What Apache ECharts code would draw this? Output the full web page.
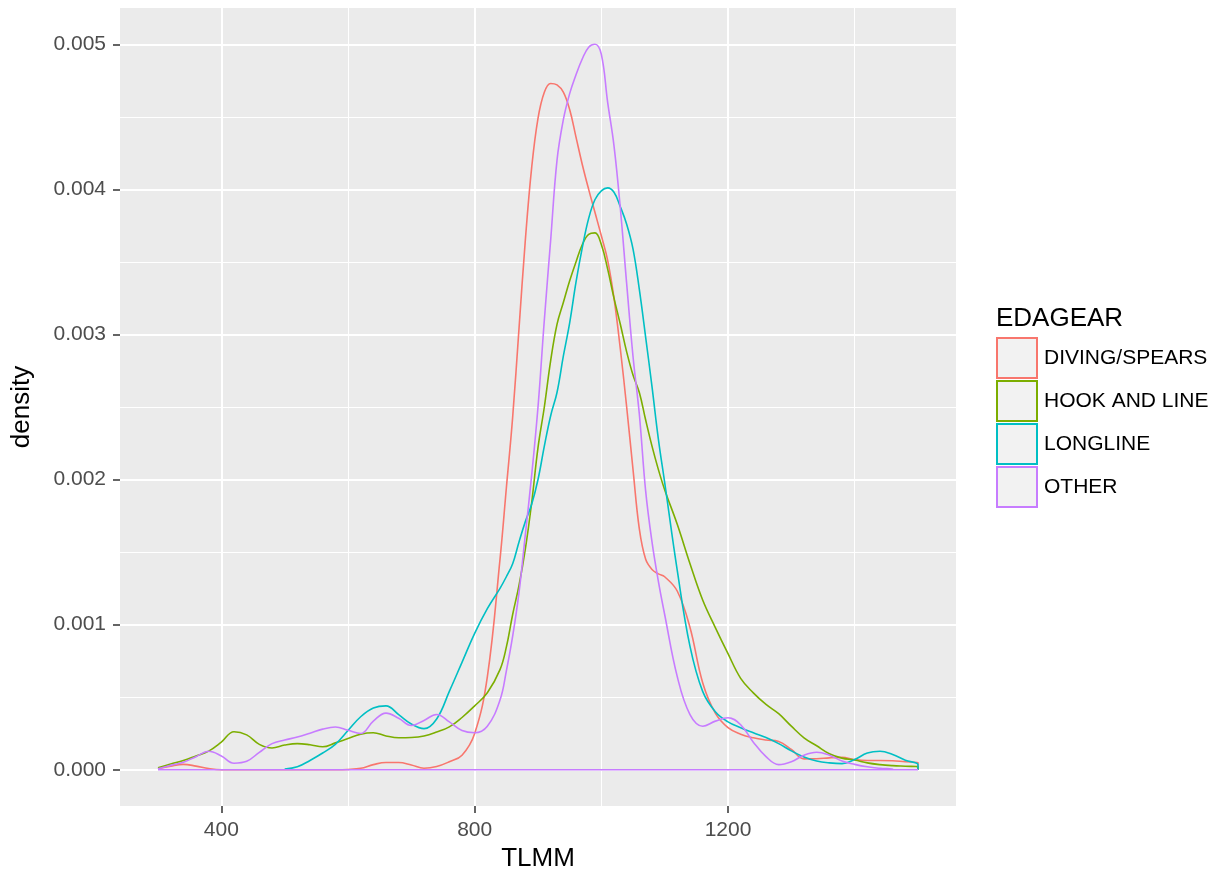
<!DOCTYPE html>
<html>
<head>
<meta charset="utf-8">
<title>EDAGEAR density</title>
<script src="https://cdn.jsdelivr.net/npm/echarts@6/dist/echarts.min.js"></script>
<style>
  html, body { margin: 0; padding: 0; background: #fff; }
  #chart { width: 1227px; height: 882px; }
</style>
</head>
<body>
<div id="chart"></div>
<script>
// TLMM sample points (mm)
const tlmm = [
  300, 320, 340, 360, 380, 400, 420, 440, 460, 480, 500, 520, 540, 560, 580, 600, 620, 640, 660, 680, 700, 720, 740, 760, 780, 800, 820, 840,
  850, 860, 870, 880, 890, 900, 910, 920, 930, 940, 950, 960, 970, 980, 990, 1000, 1010, 1020, 1030, 1040, 1050, 1060, 1070, 1080, 1090, 1100,
  1120, 1140, 1160, 1180, 1200, 1220, 1240, 1260, 1280, 1300, 1320, 1340, 1360, 1380, 1400, 1420, 1440, 1460, 1480, 1500
]

// density per gear, in units of 0.001 (null = outside the group's range)
const divingSpears = [
  0.007, 0.025, 0.037, 0.025, 0.008, 0, 0, 0, 0, 0, 0, 0, 0, 0, 0, 0.002, 0.01, 0.035, 0.05, 0.05, 0.033, 0.01, 0.022, 0.055, 0.1, 0.25, 0.64, 1.45,
  1.94, 2.43, 3.04, 3.65, 4.15, 4.49, 4.67, 4.73, 4.72, 4.67, 4.55, 4.36, 4.17, 4.0, 3.84, 3.68, 3.51, 3.25, 2.9, 2.5, 2.07, 1.66, 1.45, 1.38, 1.35, 1.33,
  1.23, 0.98, 0.6, 0.39, 0.29, 0.245, 0.22, 0.205, 0.195, 0.14, 0.075, 0.076, 0.082, 0.085, 0.07, 0.064, 0.064, 0.062, 0.055, 0.05
]
const hookAndLine = [
  0.014, 0.04, 0.063, 0.095, 0.128, 0.19, 0.262, 0.24, 0.175, 0.15, 0.17, 0.18, 0.172, 0.158, 0.185, 0.215, 0.245, 0.255, 0.233, 0.22, 0.222, 0.233, 0.26, 0.295, 0.36, 0.44, 0.53, 0.69,
  0.845, 1.07, 1.27, 1.52, 1.84, 2.22, 2.5, 2.82, 3.07, 3.22, 3.37, 3.5, 3.62, 3.69, 3.7, 3.62, 3.45, 3.25, 3.07, 2.88, 2.72, 2.6, 2.41, 2.23, 2.07, 1.93,
  1.69, 1.42, 1.17, 0.98, 0.8, 0.63, 0.53, 0.45, 0.386, 0.3, 0.22, 0.165, 0.11, 0.08, 0.067, 0.047, 0.035, 0.028, 0.024, 0.02
]
const longline = [
  null, null, null, null, null, null, null, null, null, null, 0.005, 0.02, 0.064, 0.115, 0.175, 0.27, 0.365, 0.425, 0.44, 0.38, 0.315, 0.283, 0.35, 0.54, 0.74, 0.94, 1.11, 1.25,
  1.33, 1.42, 1.57, 1.71, 1.83, 2.0, 2.23, 2.44, 2.6, 2.85, 3.08, 3.36, 3.6, 3.8, 3.93, 3.99, 4.01, 3.98, 3.88, 3.76, 3.59, 3.31, 2.98, 2.64, 2.28, 1.98,
  1.37, 0.85, 0.54, 0.4, 0.33, 0.29, 0.255, 0.222, 0.18, 0.13, 0.088, 0.06, 0.047, 0.042, 0.07, 0.115, 0.127, 0.105, 0.065, 0.035
]
const other = [
  0.007, 0.03, 0.052, 0.09, 0.127, 0.095, 0.045, 0.058, 0.12, 0.18, 0.205, 0.225, 0.252, 0.28, 0.294, 0.272, 0.25, 0.335, 0.39, 0.355, 0.305, 0.34, 0.381, 0.33, 0.27, 0.255, 0.3, 0.48,
  0.68, 0.92, 1.22, 1.62, 2.03, 2.5, 3.1, 3.65, 4.2, 4.48, 4.66, 4.79, 4.9, 4.98, 5.0, 4.93, 4.6, 4.3, 3.87, 3.35, 2.85, 2.45, 1.92, 1.57, 1.3, 1.07,
  0.64, 0.38, 0.3, 0.335, 0.358, 0.31, 0.19, 0.09, 0.035, 0.055, 0.1, 0.12, 0.1, 0.06, 0.037, 0.02, 0.01, 0.004, null, null
]

const gearNames = ['DIVING/SPEARS', 'HOOK AND LINE', 'LONGLINE', 'OTHER']
const gearValues = [divingSpears, hookAndLine, longline, other]
const gearColors = ['#F8766D', '#7CAE00', '#00BFC4', '#C77CFF']

const xMajorTicks = [400, 800, 1200]
const xMinorTicks = [600, 1000, 1400]
const yMajorTicks = [0, 0.001, 0.002, 0.003, 0.004, 0.005]
const yMinorTicks = [0.0005, 0.0015, 0.0025, 0.0035, 0.0045]

const FONT = '"Liberation Sans", Arial, sans-serif'

const toPoints = (vals) => {
  const pts = []
  tlmm.forEach((x, i) => {
    if (vals[i] != null) pts.push([x, vals[i] / 1000])
  })
  // ggplot closes the outline down to zero at the end of the range
  pts.push([pts[pts.length - 1][0], 0])
  return pts
}

const chart = echarts.init(document.getElementById('chart'))

const option = {
  animation: false,
  backgroundColor: '#ffffff',
  title: {
    text: 'EDAGEAR',
    left: 996,
    top: 306,
    padding: 0,
    textStyle: { fontFamily: FONT, fontSize: 26, fontWeight: 'normal', color: '#000' }
  },
  legend: {
    orient: 'vertical',
    left: 996,
    top: 337,
    padding: 0,
    itemWidth: 40,
    itemHeight: 40,
    itemGap: 1,
    selectedMode: false,
    textStyle: { fontFamily: FONT, fontSize: 21, color: '#000', padding: [4, 0, 0, 2] },
    data: gearNames.map((name, i) => ({
      name,
      icon: 'rect',
      itemStyle: { color: '#F2F2F2', borderColor: gearColors[i], borderWidth: 2 }
    }))
  },
  grid: {
    left: 120,
    top: 8,
    width: 836,
    height: 798,
    show: true,
    backgroundColor: '#EBEBEB',
    borderWidth: 0
  },
  xAxis: [
    {
      type: 'value',
      min: 240,
      max: 1560,
      position: 'bottom',
      name: 'TLMM',
      nameLocation: 'middle',
      nameGap: 40,
      nameTextStyle: { fontFamily: FONT, fontSize: 26, color: '#000' },
      axisLine: { show: false, onZero: false },
      axisTick: { show: true, length: 7, customValues: xMajorTicks, lineStyle: { color: '#333', width: 1.5 } },
      axisLabel: {
        customValues: xMajorTicks,
        margin: 14,
        fontFamily: FONT,
        fontSize: 21,
        color: '#4D4D4D',
        formatter: (v) => String(v)
      },
      splitLine: { show: true, lineStyle: { color: '#fff', width: 2 } }
    },
    {
      // minor grid lines only
      type: 'value',
      min: 240,
      max: 1560,
      position: 'bottom',
      axisLine: { show: false, onZero: false },
      axisTick: { show: false, customValues: xMinorTicks },
      axisLabel: { show: false, customValues: xMinorTicks },
      splitLine: { show: true, lineStyle: { color: '#fff', width: 1 } }
    }
  ],
  yAxis: [
    {
      type: 'value',
      min: -0.00025,
      max: 0.00525,
      name: 'density',
      nameLocation: 'middle',
      nameGap: 85,
      nameTextStyle: { fontFamily: FONT, fontSize: 26, color: '#000' },
      axisLine: { show: false, onZero: false },
      axisTick: { show: true, length: 7, customValues: yMajorTicks, lineStyle: { color: '#333', width: 1.5 } },
      axisLabel: {
        customValues: yMajorTicks,
        margin: 14,
        fontFamily: FONT,
        fontSize: 21,
        color: '#4D4D4D',
        formatter: (v) => Number(v).toFixed(3)
      },
      splitLine: { show: true, lineStyle: { color: '#fff', width: 2 } }
    },
    {
      type: 'value',
      min: -0.00025,
      max: 0.00525,
      axisLine: { show: false, onZero: false },
      axisTick: { show: false, customValues: yMinorTicks },
      axisLabel: { show: false, customValues: yMinorTicks },
      splitLine: { show: true, lineStyle: { color: '#fff', width: 1 } }
    }
  ],
  series: [
    ...gearNames.map((name, i) => ({
      name,
      type: 'line',
      xAxisIndex: 0,
      yAxisIndex: 0,
      data: toPoints(gearValues[i]),
      smooth: 0.4,
      symbol: 'none',
      itemStyle: { color: gearColors[i] },
      lineStyle: { color: gearColors[i], width: 1.6 },
      emphasis: { disabled: true }
    })),
    {
      // bottom edge of the density outlines (OTHER drawn last, on top)
      name: 'baseline',
      type: 'line',
      xAxisIndex: 0,
      yAxisIndex: 0,
      data: [[tlmm[0], 0], [tlmm[tlmm.length - 1], 0]],
      symbol: 'none',
      lineStyle: { color: gearColors[3], width: 1.6 },
      emphasis: { disabled: true }
    }
  ]
}

chart.setOption(option)
</script>
</body>
</html>
